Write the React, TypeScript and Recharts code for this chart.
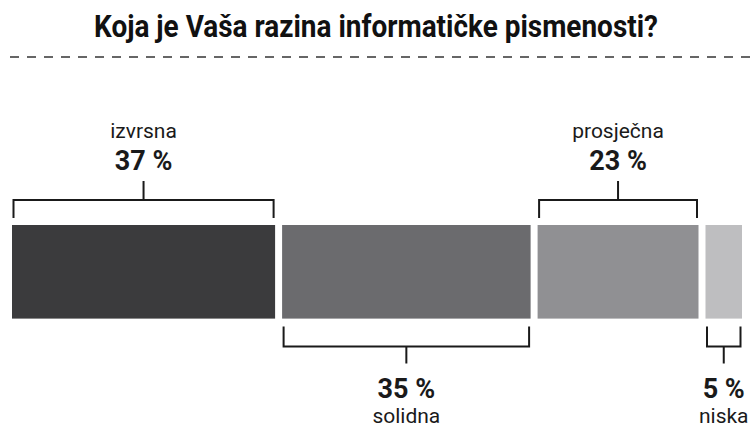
import { BarChart, Bar, XAxis, YAxis, LabelList } from "recharts";

document.body.style.margin = "0";

const title = "Koja je Vaša razina informatičke pismenosti?";
const categories = ["izvrsna", "solidna", "prosječna", "niska"];
const values = [37, 35, 23, 5];
const sides = ["top", "bottom", "top", "bottom"];
const colors = ["#3b3b3d", "#6b6b6e", "#909093", "#bebec0"];

const keys = ["k0", "k1", "k2", "k3"];
const row: Record<string, number | string> = { name: "razina" };
keys.forEach((k, i) => (row[k] = values[i]));
const data = [row];

const GAP = 7;
const FONT = "Roboto, 'Noto Sans', sans-serif";
const INK = "#1a1a1a";

function Segment(props: any) {
  const { x, y, width, height, fill, isLast } = props;
  const w = isLast ? width : Math.max(width - GAP, 0);
  return <rect x={x} y={y} width={w} height={height} fill={fill} />;
}

function makeBracket(i: number) {
  const isLast = i === values.length - 1;
  return function Bracket(props: any) {
    const { x, y, width, height } = props;
    const w = isLast ? width : width - GAP;
    const x1 = x + 1.5;
    const x2 = x + w - 1.5;
    const cx = (x1 + x2) / 2;
    if (sides[i] === "top") {
      const hy = y - 25;
      return (
        <g>
          <path
            d={`M${x1},${y - 7} V${hy} H${x2} V${y - 7} M${cx},${hy} V${hy - 19}`}
            fill="none"
            stroke={INK}
            strokeWidth={2}
          />
          <text x={cx} y={y - 87} textAnchor="middle" fontFamily={FONT} fontSize={21} fill={INK}>
            {categories[i]}
          </text>
          <text x={cx} y={y - 55} textAnchor="middle" fontFamily={FONT} fontSize={27} fontWeight="bold" fill={INK}>
            {values[i]} %
          </text>
        </g>
      );
    }
    const b = y + height;
    const hy = b + 28;
    return (
      <g>
        <path
          d={`M${x1},${b + 8} V${hy} H${x2} V${b + 8} M${cx},${hy} V${hy + 17}`}
          fill="none"
          stroke={INK}
          strokeWidth={2}
        />
        <text x={cx} y={b + 79} textAnchor="middle" fontFamily={FONT} fontSize={27} fontWeight="bold" fill={INK}>
          {values[i]} %
        </text>
        <text x={cx} y={b + 104} textAnchor="middle" fontFamily={FONT} fontSize={21} fill={INK}>
          {categories[i]}
        </text>
      </g>
    );
  };
}

export default function App() {
  return (
    <div style={{ position: "relative", width: 751, height: 432, background: "#fff" }}>
      <svg style={{ position: "absolute", left: 0, top: 0 }} width={751} height={70}>
        <text
          x={376}
          y={37}
          textAnchor="middle"
          fontFamily={FONT}
          fontWeight="bold"
          fontSize={32}
          fill="#111"
          textLength={564}
          lengthAdjust="spacingAndGlyphs"
        >
          {title}
        </text>
        <line x1={10} y1={57} x2={751} y2={57} stroke="#666" strokeWidth={1.8} strokeDasharray="9 8" />
      </svg>
      <BarChart
        width={751}
        height={432}
        data={data}
        layout="vertical"
        margin={{ top: 220, right: 9, bottom: 108, left: 12 }}
        barCategoryGap={0}
        style={{ position: "absolute", left: 0, top: 0 }}
      >
        <XAxis type="number" domain={[0, 100]} hide />
        <YAxis type="category" dataKey="name" hide />
        {keys.map((k, i) => (
          <Bar
            key={k}
            dataKey={k}
            stackId="a"
            fill={colors[i]}
            barSize={104}
            isAnimationActive={false}
            shape={(p: any) => <Segment {...p} fill={colors[i]} isLast={i === keys.length - 1} />}
          >
            <LabelList dataKey={k} content={makeBracket(i)} />
          </Bar>
        ))}
      </BarChart>
    </div>
  );
}
